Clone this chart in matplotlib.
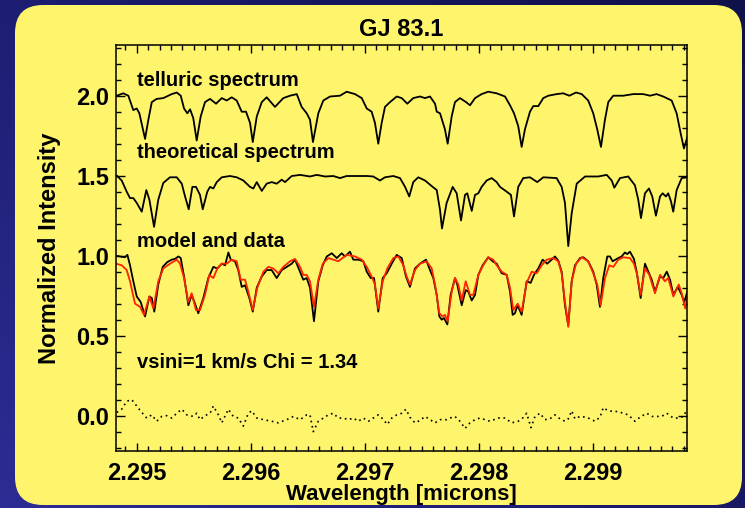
import numpy as np
import matplotlib.pyplot as plt
from matplotlib.patches import FancyBboxPatch
from matplotlib.colors import LinearSegmentedColormap
from matplotlib.ticker import MultipleLocator, FormatStrFormatter

plt.rcParams['font.family'] = ['Liberation Sans', 'DejaVu Sans']
plt.rcParams['font.weight'] = 'bold'

# telluric transmission (offset +1)
tell_wl = [2.294825, 2.294882, 2.294926, 2.294970, 2.295000, 2.295023, 2.295073,
           2.295102, 2.295132, 2.295175, 2.295233, 2.295307, 2.295351, 2.295386,
           2.295415, 2.295444, 2.295468, 2.295496, 2.295526, 2.295561, 2.295599,
           2.295643, 2.295696, 2.295746, 2.295789, 2.295833, 2.295877, 2.295921,
           2.295959, 2.295994, 2.296018, 2.296053, 2.296097, 2.296140, 2.296213,
           2.296286, 2.296345, 2.296404, 2.296447, 2.296491, 2.296520, 2.296546,
           2.296593, 2.296637, 2.296696, 2.296783, 2.296842, 2.296915, 2.296974,
           2.297018, 2.297061, 2.297090, 2.297119, 2.297149, 2.297178, 2.297222,
           2.297281, 2.297325, 2.297374, 2.297426, 2.297485, 2.297529, 2.297573,
           2.297617, 2.297632, 2.297661, 2.297704, 2.297728, 2.297763, 2.297792,
           2.297836, 2.297889, 2.297924, 2.297968, 2.298026, 2.298084, 2.298158,
           2.298231, 2.298275, 2.298310, 2.298347, 2.298377, 2.298406, 2.298450,
           2.298479, 2.298523, 2.298567, 2.298611, 2.298684, 2.298742, 2.298795,
           2.298854, 2.298904, 2.298961, 2.299005, 2.299040, 2.299073, 2.299108,
           2.299137, 2.299181, 2.299268, 2.299356, 2.299444, 2.299503, 2.299561,
           2.299619, 2.299693, 2.299737, 2.299772, 2.299801, 2.299830]
tell_flux = [2.00, 2.015, 2.00, 1.91, 1.92, 1.89, 1.73,
             1.85, 1.96, 1.98, 1.985, 2.01, 2.02, 2.00,
             1.92, 1.89, 1.915, 1.86, 1.72, 1.87, 1.96,
             1.98, 1.95, 1.985, 1.97, 1.99, 1.97, 1.90,
             1.90, 1.83, 1.71, 1.87, 1.96, 1.99, 1.93,
             1.985, 2.00, 2.01, 1.93, 1.89, 1.85, 1.71,
             1.89, 1.97, 1.995, 2.00, 2.025, 2.01, 1.985,
             1.92, 1.90, 1.83, 1.70, 1.83, 1.93, 1.96,
             1.995, 1.985, 1.95, 1.985, 1.995, 1.985, 1.995,
             1.95, 1.90, 1.89, 1.79, 1.70, 1.87, 1.96,
             1.985, 1.96, 1.94, 1.985, 2.01, 2.025, 2.015,
             1.995, 1.94, 1.89, 1.81, 1.68, 1.79, 1.90,
             1.935, 1.935, 1.985, 2.00, 2.01, 2.015, 2.00,
             2.02, 2.01, 1.97, 1.89, 1.79, 1.68, 1.85,
             1.96, 2.00, 2.00, 2.01, 2.01, 2.00, 2.01,
             1.995, 1.97, 1.89, 1.765, 1.67, 1.74]

# synthetic stellar spectrum (offset +0.5)
theo_wl = [2.294825, 2.294868, 2.294912, 2.294941, 2.294970, 2.295000, 2.295044,
           2.295084, 2.295111, 2.295152, 2.295189, 2.295233, 2.295292, 2.295351,
           2.295395, 2.295424, 2.295456, 2.295488, 2.295520, 2.295555, 2.295579,
           2.295619, 2.295643, 2.295672, 2.295702, 2.295746, 2.295818, 2.295877,
           2.295935, 2.295994, 2.296023, 2.296053, 2.296097, 2.296140, 2.296184,
           2.296228, 2.296272, 2.296301, 2.296360, 2.296433, 2.296520, 2.296579,
           2.296652, 2.296725, 2.296783, 2.296842, 2.296915, 2.297018, 2.297075,
           2.297134, 2.297178, 2.297251, 2.297310, 2.297354, 2.297391, 2.297426,
           2.297470, 2.297529, 2.297588, 2.297632, 2.297661, 2.297678, 2.297719,
           2.297772, 2.297807, 2.297845, 2.297880, 2.297900, 2.297939, 2.297968,
           2.297997, 2.298026, 2.298070, 2.298114, 2.298158, 2.298187, 2.298246,
           2.298283, 2.298310, 2.298347, 2.298391, 2.298450, 2.298514, 2.298567,
           2.298684, 2.298728, 2.298757, 2.298786, 2.298816, 2.298860, 2.298933,
           2.299049, 2.299123, 2.299167, 2.299190, 2.299240, 2.299312, 2.299371,
           2.299400, 2.299424, 2.299459, 2.299494, 2.299523, 2.299555, 2.299591,
           2.299614, 2.299643, 2.299663, 2.299687, 2.299707, 2.299737, 2.299781,
           2.299830]
theo_flux = [1.50, 1.47, 1.40, 1.36, 1.36, 1.33, 1.275,
             1.41, 1.35, 1.18, 1.35, 1.455, 1.49, 1.49,
             1.45, 1.37, 1.29, 1.43, 1.43, 1.38, 1.29,
             1.40, 1.43, 1.42, 1.46, 1.49, 1.498, 1.49,
             1.47, 1.43, 1.42, 1.46, 1.405, 1.45, 1.46,
             1.45, 1.475, 1.46, 1.498, 1.505, 1.495, 1.505,
             1.495, 1.498, 1.485, 1.498, 1.498, 1.498, 1.495,
             1.47, 1.49, 1.498, 1.485, 1.43, 1.37, 1.46,
             1.49, 1.47, 1.435, 1.41, 1.285, 1.17, 1.33,
             1.43, 1.39, 1.22, 1.38, 1.39, 1.28, 1.38,
             1.39, 1.43, 1.47, 1.485, 1.46, 1.43, 1.40,
             1.38, 1.245, 1.43, 1.485, 1.49, 1.46, 1.49,
             1.485, 1.43, 1.33, 1.06, 1.265, 1.45, 1.495,
             1.495, 1.505, 1.47, 1.425, 1.485, 1.495, 1.44,
             1.35, 1.235, 1.39, 1.42, 1.37, 1.25, 1.37,
             1.39, 1.37, 1.39, 1.34, 1.275, 1.41, 1.485,
             1.49]

# observed spectrum
data_wl = [2.294818, 2.294854, 2.294897, 2.294918, 2.294941, 2.294970, 2.295000,
           2.295035, 2.295073, 2.295111, 2.295132, 2.295154, 2.295189, 2.295228,
           2.295268, 2.295307, 2.295336, 2.295365, 2.295386, 2.295415, 2.295453,
           2.295482, 2.295511, 2.295540, 2.295584, 2.295628, 2.295672, 2.295707,
           2.295746, 2.295775, 2.295804, 2.295825, 2.295862, 2.295891, 2.295921,
           2.295950, 2.295988, 2.296018, 2.296053, 2.296097, 2.296140, 2.296184,
           2.296228, 2.296272, 2.296316, 2.296360, 2.296389, 2.296426, 2.296461,
           2.296491, 2.296520, 2.296555, 2.296593, 2.296632, 2.296667, 2.296711,
           2.296755, 2.296798, 2.296827, 2.296871, 2.296900, 2.296944, 2.296988,
           2.297018, 2.297053, 2.297082, 2.297119, 2.297158, 2.297193, 2.297237,
           2.297281, 2.297325, 2.297362, 2.297397, 2.297441, 2.297485, 2.297538,
           2.297573, 2.297602, 2.297632, 2.297655, 2.297676, 2.297696, 2.297725,
           2.297754, 2.297792, 2.297812, 2.297851, 2.297886, 2.297909, 2.297939,
           2.297968, 2.297997, 2.298035, 2.298084, 2.298123, 2.298158, 2.298202,
           2.298246, 2.298275, 2.298298, 2.298318, 2.298342, 2.298377, 2.298421,
           2.298456, 2.298485, 2.298523, 2.298561, 2.298601, 2.298640, 2.298669,
           2.298698, 2.298728, 2.298757, 2.298786, 2.298816, 2.298845, 2.298889,
           2.298918, 2.298961, 2.299005, 2.299035, 2.299064, 2.299093, 2.299128,
           2.299152, 2.299175, 2.299225, 2.299254, 2.299283, 2.299303, 2.299327,
           2.299362, 2.299386, 2.299421, 2.299459, 2.299488, 2.299518, 2.299547,
           2.299591, 2.299620, 2.299650, 2.299679, 2.299708, 2.299747, 2.299781,
           2.299804, 2.299830]
data_flux = [1.00, 0.995, 0.99, 1.005, 0.94, 0.84, 0.745,
             0.71, 0.62, 0.745, 0.735, 0.65, 0.82, 0.93,
             0.96, 0.975, 0.98, 0.995, 0.985, 0.87, 0.69,
             0.755, 0.70, 0.64, 0.735, 0.86, 0.93, 0.92,
             0.95, 0.94, 1.02, 0.975, 0.965, 0.91, 0.805,
             0.815, 0.735, 0.65, 0.80, 0.87, 0.91, 0.91,
             0.86, 0.91, 0.93, 0.95, 0.975, 0.91, 0.85,
             0.86, 0.80, 0.59, 0.84, 0.94, 0.995, 1.015,
             0.985, 1.015, 0.995, 1.025, 0.975, 0.975, 0.965,
             0.90, 0.86, 0.86, 0.65, 0.86, 0.89, 0.95,
             1.005, 0.985, 0.87, 0.805, 0.92, 0.95, 0.975,
             0.91, 0.86, 0.755, 0.62, 0.60, 0.61, 0.57,
             0.755, 0.86, 0.82, 0.69, 0.785, 0.775, 0.72,
             0.755, 0.88, 0.94, 0.99, 0.965, 0.95, 0.89,
             0.88, 0.775, 0.63, 0.64, 0.69, 0.63, 0.84,
             0.83, 0.88, 0.92, 0.975, 0.95, 0.975, 0.995,
             0.97, 0.90, 0.69, 0.565, 0.84, 0.94, 0.985,
             0.99, 0.965, 0.90, 0.82, 0.68, 0.86, 0.995,
             0.995, 0.965, 0.985, 0.995, 1.02, 1.01, 1.025,
             0.98, 0.90, 0.735, 0.95, 0.90, 0.85, 0.775,
             0.87, 0.86, 0.90, 0.85, 0.755, 0.805, 0.755,
             0.71, 0.775]

# best-fit model (telluric x stellar, broadened)
model_wl = [2.294818, 2.294868, 2.294912, 2.294941, 2.294985, 2.295029, 2.295064,
            2.295111, 2.295146, 2.295189, 2.295233, 2.295292, 2.295351, 2.295380,
            2.295415, 2.295453, 2.295482, 2.295520, 2.295555, 2.295599, 2.295637,
            2.295672, 2.295707, 2.295746, 2.295789, 2.295833, 2.295877, 2.295912,
            2.295950, 2.295979, 2.296018, 2.296058, 2.296111, 2.296154, 2.296198,
            2.296242, 2.296286, 2.296345, 2.296389, 2.296433, 2.296461, 2.296491,
            2.296520, 2.296555, 2.296593, 2.296632, 2.296681, 2.296768, 2.296842,
            2.296915, 2.296974, 2.297018, 2.297061, 2.297090, 2.297119, 2.297158,
            2.297198, 2.297251, 2.297295, 2.297339, 2.297368, 2.297397, 2.297441,
            2.297485, 2.297544, 2.297588, 2.297617, 2.297655, 2.297684, 2.297704,
            2.297728, 2.297763, 2.297792, 2.297821, 2.297851, 2.297886, 2.297924,
            2.297953, 2.297997, 2.298040, 2.298084, 2.298128, 2.298158, 2.298202,
            2.298246, 2.298275, 2.298304, 2.298342, 2.298377, 2.298421, 2.298465,
            2.298509, 2.298553, 2.298597, 2.298654, 2.298698, 2.298728, 2.298757,
            2.298786, 2.298816, 2.298854, 2.298904, 2.298961, 2.299005, 2.299040,
            2.299070, 2.299108, 2.299146, 2.299181, 2.299225, 2.299268, 2.299327,
            2.299362, 2.299391, 2.299421, 2.299459, 2.299497, 2.299547, 2.299591,
            2.299634, 2.299663, 2.299708, 2.299755, 2.299781, 2.299812, 2.299830]
model_flux = [0.95, 0.94, 0.91, 0.84, 0.70, 0.68, 0.63,
              0.745, 0.67, 0.84, 0.92, 0.95, 0.975, 0.95,
              0.86, 0.71, 0.765, 0.66, 0.66, 0.755, 0.88,
              0.86, 0.92, 0.95, 0.95, 0.975, 0.965, 0.85,
              0.85, 0.775, 0.66, 0.80, 0.90, 0.93, 0.92,
              0.89, 0.93, 0.965, 0.98, 0.93, 0.88, 0.88,
              0.84, 0.68, 0.85, 0.95, 0.985, 0.965, 1.005,
              0.995, 0.975, 0.93, 0.87, 0.82, 0.67, 0.84,
              0.92, 0.985, 0.995, 0.94, 0.87, 0.82, 0.91,
              0.95, 0.965, 0.92, 0.82, 0.64, 0.62, 0.63,
              0.59, 0.775, 0.86, 0.82, 0.72, 0.84, 0.755,
              0.755, 0.88, 0.94, 0.99, 0.975, 0.94, 0.90,
              0.88, 0.80, 0.66, 0.70, 0.65, 0.83, 0.90,
              0.89, 0.94, 0.975, 0.985, 0.965, 0.89, 0.71,
              0.555, 0.84, 0.95, 0.99, 0.965, 0.89, 0.82,
              0.69, 0.86, 0.94, 0.93, 0.975, 0.99, 0.985,
              0.95, 0.88, 0.755, 0.92, 0.88, 0.765, 0.88,
              0.84, 0.86, 0.745, 0.82, 0.765, 0.67, 0.735]

# data - model
resid_wl = [2.294825, 2.294868, 2.294912, 2.294956, 2.295000, 2.295044, 2.295088,
            2.295132, 2.295175, 2.295219, 2.295263, 2.295307, 2.295351, 2.295395,
            2.295439, 2.295496, 2.295526, 2.295555, 2.295599, 2.295643, 2.295672,
            2.295716, 2.295746, 2.295804, 2.295847, 2.295891, 2.295935, 2.295979,
            2.296009, 2.296053, 2.296111, 2.296184, 2.296242, 2.296316, 2.296374,
            2.296433, 2.296491, 2.296520, 2.296549, 2.296593, 2.296637, 2.296681,
            2.296725, 2.296768, 2.296812, 2.296856, 2.296900, 2.296944, 2.296988,
            2.297032, 2.297075, 2.297119, 2.297158, 2.297198, 2.297237, 2.297281,
            2.297325, 2.297362, 2.297397, 2.297441, 2.297485, 2.297529, 2.297573,
            2.297617, 2.297661, 2.297719, 2.297748, 2.297792, 2.297836, 2.297880,
            2.297924, 2.297968, 2.298011, 2.298055, 2.298099, 2.298172, 2.298231,
            2.298289, 2.298347, 2.298380, 2.298421, 2.298459, 2.298494, 2.298538,
            2.298582, 2.298625, 2.298669, 2.298713, 2.298757, 2.298786, 2.298816,
            2.298845, 2.298889, 2.298947, 2.299020, 2.299064, 2.299093, 2.299137,
            2.299225, 2.299312, 2.299371, 2.299415, 2.299474, 2.299520, 2.299561,
            2.299605, 2.299650, 2.299708, 2.299755, 2.299795, 2.299830]
resid = [0.02, 0.04, 0.09, 0.10, 0.06, 0.02, -0.015,
         0.005, -0.035, -0.005, 0.0, -0.015, 0.015, 0.04,
         0.005, -0.005, 0.015, -0.025, 0.0, 0.015, 0.06,
         0.005, -0.045, 0.04, -0.005, -0.015, -0.065, 0.015,
         0.03, -0.015, -0.025, -0.035, -0.045, -0.025, -0.005,
         -0.025, 0.005, 0.005, -0.10, -0.035, -0.015, 0.005,
         0.015, -0.015, -0.015, -0.025, -0.015, -0.035, -0.015,
         -0.035, -0.015, 0.005, -0.02, -0.055, -0.015, 0.005,
         0.015, 0.04, -0.01, -0.045, -0.03, -0.005, -0.025,
         -0.045, -0.025, -0.025, -0.015, -0.005, -0.035, -0.08,
         -0.045, -0.025, -0.015, -0.025, -0.035, -0.015, -0.015,
         -0.045, -0.035, -0.02, 0.015, -0.075, -0.005, 0.015,
         -0.025, -0.02, 0.005, -0.02, -0.035, -0.02, 0.03,
         -0.02, -0.005, -0.01, -0.035, -0.01, 0.05, 0.03,
         0.025, 0.005, -0.035, -0.01, 0.015, -0.005, -0.005,
         -0.005, 0.015, -0.015, -0.015, -0.005, 0.04]

vsini = 1
chi = 1.34

fig = plt.figure(figsize=(7.45, 5.08), dpi=100)

# dark blue backdrop with a yellow rounded card on top
bg = fig.add_axes([0, 0, 1, 1], zorder=-10)
bg.set_axis_off()
bg_cmap = LinearSegmentedColormap.from_list('bg', ['#2c2c94', '#1a1a6a', '#10104a'])
gx, gy = np.meshgrid(np.linspace(0, 1, 200), np.linspace(0, 1, 200))
bg.imshow(0.6 * gx + 0.4 * (1 - gy), cmap=bg_cmap, extent=[0, 1, 0, 1],
          aspect='auto', origin='upper')
bg.set_xlim(0, 1)
bg.set_ylim(0, 1)
card = FancyBboxPatch((0.15, 0.03), 7.27, 5.0,
                      boxstyle='round,pad=0,rounding_size=0.28',
                      transform=fig.dpi_scale_trans, fc='#fff56c', ec='none')
bg.add_patch(card)

ax = fig.add_axes([0.1557, 0.1122, 0.7668, 0.7986])
ax.set_facecolor('none')

ax.plot(tell_wl, tell_flux, color='k', lw=1.3)
ax.plot(theo_wl, theo_flux, color='k', lw=1.3)
ax.plot(data_wl, data_flux, color='k', lw=1.3)
ax.plot(model_wl, model_flux, color='#ff2200', lw=1.3)
ax.plot(resid_wl, resid, color='k', lw=1.2, ls=(0, (1, 2.2)))

txt = dict(fontsize=14.5, fontweight='bold', ha='left', va='center')
ax.text(2.295, 2.098, 'telluric spectrum', **txt)
ax.text(2.295, 1.648, 'theoretical spectrum', **txt)
ax.text(2.295, 1.086, 'model and data', **txt)
ax.text(2.295, 0.33, 'vsini=%d km/s Chi = %.2f' % (vsini, chi), **txt)

ax.set_xlim(2.294818, 2.299830)
ax.set_ylim(-0.221, 2.315)
ax.xaxis.set_major_locator(MultipleLocator(0.001))
ax.xaxis.set_minor_locator(MultipleLocator(0.0001))
ax.xaxis.set_major_formatter(FormatStrFormatter('%.3f'))
ax.yaxis.set_major_locator(MultipleLocator(0.5))
ax.yaxis.set_minor_locator(MultipleLocator(0.1))
ax.yaxis.set_major_formatter(FormatStrFormatter('%.1f'))
ax.tick_params(which='both', direction='in', top=True, right=True,
               labelsize=17, width=1.0)
ax.tick_params(axis='x', which='major', length=6, pad=8)
ax.tick_params(axis='y', which='major', length=6.5, pad=5)
ax.tick_params(which='minor', length=3.6)
for lab in ax.get_xticklabels() + ax.get_yticklabels():
    lab.set_fontweight('bold')
for sp in ax.spines.values():
    sp.set_linewidth(1.1)

ax.set_title('GJ 83.1', fontsize=17, fontweight='bold', pad=7)
ax.set_xlabel('Wavelength [microns]', fontsize=16, fontweight='bold', labelpad=-1)
ax.set_ylabel('Normalized Intensity', fontsize=17, fontweight='bold', labelpad=11)

fig.savefig('out.png', dpi=100)
